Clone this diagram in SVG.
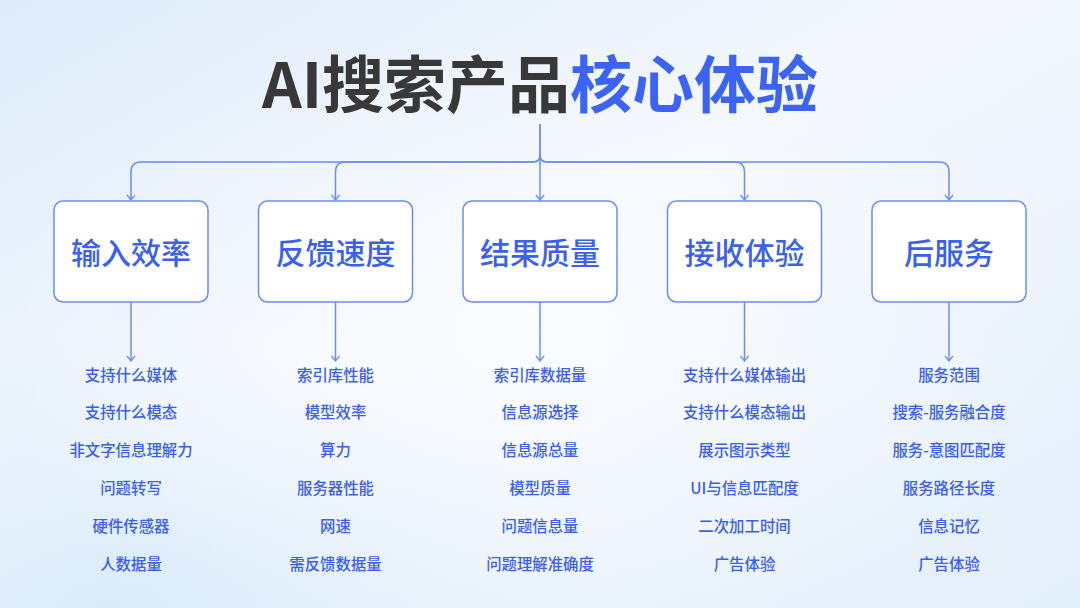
<svg xmlns="http://www.w3.org/2000/svg" width="1080" height="608" viewBox="0 0 1080 608">
<defs>
<linearGradient id="bg" x1="0" y1="0" x2="1" y2="1">
<stop offset="0" stop-color="#deebfa"/>
<stop offset="0.45" stop-color="#f4f8fd"/>
<stop offset="1" stop-color="#e3effb"/>
</linearGradient>
<radialGradient id="glow" cx="0.5" cy="0.55" r="0.5">
<stop offset="0" stop-color="#fafcff" stop-opacity="0.9"/>
<stop offset="1" stop-color="#fafcff" stop-opacity="0"/>
</radialGradient>
<radialGradient id="bl" cx="0.1" cy="1" r="0.45">
<stop offset="0" stop-color="#d8eafa" stop-opacity="0.9"/>
<stop offset="1" stop-color="#d8eafa" stop-opacity="0"/>
</radialGradient>
<marker id="arr" viewBox="0 0 10 10" refX="8" refY="5" markerWidth="10" markerHeight="10" markerUnits="userSpaceOnUse" orient="auto">
<path d="M3,1 L8,5 L3,9" fill="none" stroke="#6b8cf5" stroke-width="1.3"/>
</marker>
<style>
.box{fill:#ffffff;stroke:#6b8cf5;stroke-width:1.5}
.lbl{font-family:"Noto Sans CJK SC","Noto Sans",sans-serif;font-size:30px;font-weight:500;fill:#3b60ee;text-anchor:middle}
.item{font-family:"Noto Sans CJK SC","Noto Sans",sans-serif;font-size:15.4px;font-weight:500;fill:#3b5eef;text-anchor:middle}
.con{fill:none;stroke:#6b8cf5;stroke-width:1.5}
.title{font-family:"Noto Sans CJK SC","Noto Sans",sans-serif;font-size:62px;font-weight:700}
</style>
</defs>
<rect width="1080" height="608" fill="url(#bg)"/>
<rect width="1080" height="608" fill="url(#bl)"/>
<rect width="1080" height="608" fill="url(#glow)"/>
<g id="title">
<text class="title" x="540" y="108" text-anchor="middle"><tspan fill="#383838">AI搜索产品</tspan><tspan fill="#3b63f4">核心体验</tspan></text>
</g>
<g id="connectors">
<path class="con" d="M540,124 V155 Q540,162 533,162 H141 Q131,162 131,172 V200" marker-end="url(#arr)"/>
<path class="con" d="M540,155 Q540,162 533,162 H345.5 Q335.5,162 335.5,172 V200" marker-end="url(#arr)"/>
<path class="con" d="M540,124 V200" marker-end="url(#arr)"/>
<path class="con" d="M540,155 Q540,162 547,162 H734.5 Q744.5,162 744.5,172 V200" marker-end="url(#arr)"/>
<path class="con" d="M540,155 Q540,162 547,162 H939 Q949,162 949,172 V200" marker-end="url(#arr)"/>
<path class="con" d="M131,302 V361" marker-end="url(#arr)"/>
<path class="con" d="M335.5,302 V361" marker-end="url(#arr)"/>
<path class="con" d="M540,302 V361" marker-end="url(#arr)"/>
<path class="con" d="M744.5,302 V361" marker-end="url(#arr)"/>
<path class="con" d="M949,302 V361" marker-end="url(#arr)"/>
</g>
<g id="node1">
<rect class="box" x="54" y="201" width="154" height="101" rx="9"/>
<text class="lbl" x="131" y="264">输入效率</text>
<text class="item" x="131" y="380.5">支持什么媒体</text>
<text class="item" x="131" y="418.3">支持什么模态</text>
<text class="item" x="131" y="456.1">非文字信息理解力</text>
<text class="item" x="131" y="493.9">问题转写</text>
<text class="item" x="131" y="531.7">硬件传感器</text>
<text class="item" x="131" y="569.5">人数据量</text>
</g>
<g id="node2">
<rect class="box" x="258.5" y="201" width="154" height="101" rx="9"/>
<text class="lbl" x="335.5" y="264">反馈速度</text>
<text class="item" x="335.5" y="380.5">索引库性能</text>
<text class="item" x="335.5" y="418.3">模型效率</text>
<text class="item" x="335.5" y="456.1">算力</text>
<text class="item" x="335.5" y="493.9">服务器性能</text>
<text class="item" x="335.5" y="531.7">网速</text>
<text class="item" x="335.5" y="569.5">需反馈数据量</text>
</g>
<g id="node3">
<rect class="box" x="463" y="201" width="154" height="101" rx="9"/>
<text class="lbl" x="540" y="264">结果质量</text>
<text class="item" x="540" y="380.5">索引库数据量</text>
<text class="item" x="540" y="418.3">信息源选择</text>
<text class="item" x="540" y="456.1">信息源总量</text>
<text class="item" x="540" y="493.9">模型质量</text>
<text class="item" x="540" y="531.7">问题信息量</text>
<text class="item" x="540" y="569.5">问题理解准确度</text>
</g>
<g id="node4">
<rect class="box" x="667.5" y="201" width="154" height="101" rx="9"/>
<text class="lbl" x="744.5" y="264">接收体验</text>
<text class="item" x="744.5" y="380.5">支持什么媒体输出</text>
<text class="item" x="744.5" y="418.3">支持什么模态输出</text>
<text class="item" x="744.5" y="456.1">展示图示类型</text>
<text class="item" x="744.5" y="493.9">UI与信息匹配度</text>
<text class="item" x="744.5" y="531.7">二次加工时间</text>
<text class="item" x="744.5" y="569.5">广告体验</text>
</g>
<g id="node5">
<rect class="box" x="872" y="201" width="154" height="101" rx="9"/>
<text class="lbl" x="949" y="264">后服务</text>
<text class="item" x="949" y="380.5">服务范围</text>
<text class="item" x="949" y="418.3">搜索-服务融合度</text>
<text class="item" x="949" y="456.1">服务-意图匹配度</text>
<text class="item" x="949" y="493.9">服务路径长度</text>
<text class="item" x="949" y="531.7">信息记忆</text>
<text class="item" x="949" y="569.5">广告体验</text>
</g>
</svg>
